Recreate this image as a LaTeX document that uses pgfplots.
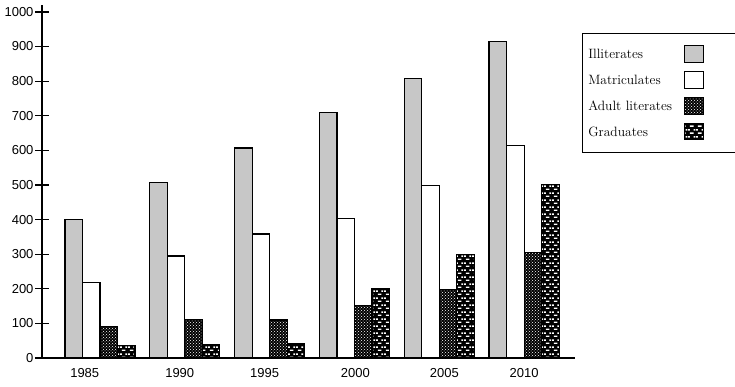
\documentclass[border=0pt]{standalone}
\usepackage{fontspec}
\newfontfamily\tickfont{Liberation Sans}
\usepackage{pgfplots}
\pgfplotsset{compat=1.18}
\usetikzlibrary{patterns}
\pgfdeclarepatternformonly{gradbricks}{\pgfqpoint{0pt}{0pt}}{\pgfqpoint{8pt}{7pt}}{\pgfqpoint{8pt}{7pt}}{%
  \pgfpathrectangle{\pgfqpoint{2pt}{1.2pt}}{\pgfqpoint{4pt}{1.6pt}}%
  \pgfpathrectangle{\pgfqpoint{0pt}{4.7pt}}{\pgfqpoint{2pt}{1.6pt}}%
  \pgfpathrectangle{\pgfqpoint{6pt}{4.7pt}}{\pgfqpoint{2pt}{1.6pt}}%
  \pgfusepath{fill}}
\begin{document}
\begin{tikzpicture}[x=1pt,y=1pt]
\path[use as bounding box] (0,0) rectangle (735,387);
\begin{axis}[
  at={(42pt,29pt)}, anchor=south west,
  scale only axis, width=533pt, height=353pt,
  xmin=-0.684, xmax=5.60, ymin=0, ymax=1020,
  axis x line*=bottom, axis y line*=left,
  every inner x axis line/.append style={-},
  every inner y axis line/.append style={-},
  axis line style={line width=1.6pt,-},
  ybar=0pt, bar width=17.5pt,
  ytick={0,100,...,1000},
  xtick={-0.18,0.94,1.94,3.01,4.06,5},
  xticklabels={1985,1990,1995,2000,2005,2010},
  xtick style={draw=none},
  ytick style={line width=1.2pt,black},
  major tick length=14pt, tick align=center,
  /pgf/number format/assume math mode=true,
  /pgf/number format/1000 sep={},
  ticklabel style={font=\tickfont\fontsize{13}{14}\selectfont},
  yticklabel style={xshift=2pt},
  legend plot pos=right,
  legend style={at={(1.013,0.921)}, anchor=north west, draw=black, line width=0.8pt,
    font=\fontsize{13.5}{15}\selectfont, cells={anchor=west}, row sep=8.5pt,
    inner xsep=4pt, inner ysep=12pt},
  legend image code/.code={\path (0pt,0pt); \draw[#1,line width=0.9pt] (10pt,-7.5pt) rectangle (29pt,9pt); \path (80pt,0pt);},
]
\addplot[draw=black, line width=1.3pt, fill=black!22] coordinates {(0,400) (1,508) (2,607) (3,710) (4,808) (5,914)};
\addplot[draw=black, line width=1.2pt, fill=white] coordinates {(0,218) (1,295) (2,358) (3,404) (4,499) (5,614)};
\addplot[draw=black, line width=1.2pt, fill=black, postaction={pattern=crosshatch dots, pattern color=white}] coordinates {(0,90) (1,111) (2,110) (3,151) (4,198) (5,304)};
\addplot[draw=black, line width=1.2pt, fill=black, postaction={pattern=gradbricks, pattern color=white}] coordinates {(0,37) (1,40) (2,43) (3,200) (4,300) (5,502)};
\legend{Illiterates, Matriculates, Adult literates, Graduates}
\end{axis}
\end{tikzpicture}
\end{document}
